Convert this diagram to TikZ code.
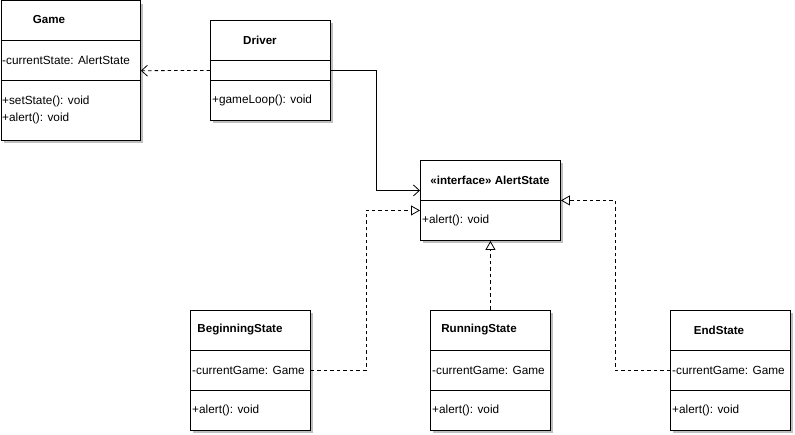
\documentclass[tikz,border=0pt]{standalone}
\usepackage{fontspec}
\setmainfont{Liberation Sans}
\usetikzlibrary{arrows.meta,shadows}
\begin{document}
\begin{tikzpicture}[x=1pt,y=-1pt,
  cls/.style={draw, line width=0.9pt, fill=white, anchor=north west, inner sep=0pt,
    drop shadow={shadow xshift=3pt, shadow yshift=-3pt, fill=black!25, opacity=1}},
  ttl/.style={font=\fontsize{11.6}{13}\selectfont\bfseries, inner sep=0pt},
  txt/.style={font=\fontsize{11.8}{13}\selectfont, anchor=west, inner sep=0pt},
  sep/.style={line width=0.9pt},
  dep/.style={line width=0.8pt, dash pattern=on 3.5pt off 3pt, -{Straight Barb[length=6pt,width=11pt,line width=0.8pt]}},
  assoc/.style={line width=0.8pt, -{Straight Barb[length=6pt,width=11pt,line width=0.8pt]}},
  real/.style={line width=0.8pt, dash pattern=on 3.5pt off 3pt, -{Triangle[open,length=9pt,width=10pt,line width=0.8pt]}}]
\useasboundingbox (0,0) rectangle (795,435);
% Game
\node[cls, minimum width=139.5pt, minimum height=139.5pt] (game) at (0.5,0.5) {};
\draw[sep] (0.5,40) -- (140,40) (0.5,80) -- (140,80);
\node[ttl] (gameT) at (49,20) {Game};
\node[txt] (gameA) at (2,60) {-currentState: AlertState};
\node[txt] (gameM1) at (2,101) {+setState(): void};
\node[txt] (gameM2) at (2,118) {+alert(): void};
% Driver
\node[cls, minimum width=120pt, minimum height=100pt] (driver) at (210,20) {};
\draw[sep] (210,60) -- (330,60) (210,80) -- (330,80);
\node[ttl] (driverT) at (260,40) {Driver};
\node[txt] (driverM) at (212,100) {+gameLoop(): void};
% AlertState
\node[cls, minimum width=140pt, minimum height=80pt] (alert) at (420,160) {};
\draw[sep] (420,200) -- (560,200);
\node[ttl] (alertT) at (490,180) {«interface» AlertState};
\node[txt] (alertM) at (422,220) {+alert(): void};
% BeginningState
\node[cls, minimum width=120pt, minimum height=120pt] (begin) at (190,310) {};
\draw[sep] (190,350) -- (310,350) (190,390) -- (310,390);
\node[ttl] (beginT) at (240,330) {BeginningState};
\node[txt] (beginA) at (192,370) {-currentGame: Game};
\node[txt] (beginM) at (192,410) {+alert(): void};
% RunningState
\node[cls, minimum width=120pt, minimum height=120pt] (run) at (430,310) {};
\draw[sep] (430,350) -- (550,350) (430,390) -- (550,390);
\node[ttl] (runT) at (479,330) {RunningState};
\node[txt] (runA) at (432,370) {-currentGame: Game};
\node[txt] (runM) at (432,410) {+alert(): void};
% EndState
\node[cls, minimum width=120pt, minimum height=120pt] (endS) at (670,310) {};
\draw[sep] (670,350) -- (790,350) (670,390) -- (790,390);
\node[ttl] (endT) at (719,330) {EndState};
\node[txt] (endA) at (672,370) {-currentGame: Game};
\node[txt] (endM) at (672,410) {+alert(): void};
% connectors
\draw[dep] (driver.west) -- (game.east);
\draw[assoc] (driver.east) -- ++(45,0) |- ([yshift=10pt]alert.west);
\draw[real] (begin.east) -- ++(55,0) |- ([yshift=-10pt]alert.west);
\draw[real] (run.north) -- (alert.south);
\draw[real] (endS.west) -- ++(-55,0) |- (alert.east);
\end{tikzpicture}
\end{document}
